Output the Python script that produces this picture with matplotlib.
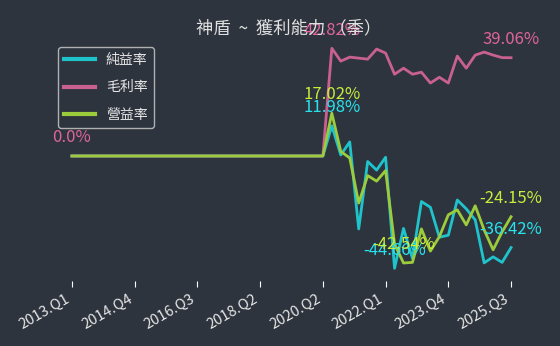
import matplotlib
matplotlib.use("Agg")
import matplotlib.pyplot as plt

plt.rcParams['font.family'] = ['Noto Sans CJK TC', 'DejaVu Sans']

quarters = (
    [f"{y}.Q{q}" for y in range(2013, 2018) for q in range(1, 5)]
    + ["2018.Q1", "2018.Q2", "2018.Q3", "2018.Q4", "2019.Q1", "2019.Q2", "2019.Q3", "2019.Q4"]
    + ["2020.Q2", "2020.Q3", "2020.Q4"]
    + [f"{y}.Q{q}" for y in range(2021, 2025) for q in range(1, 5)]
    + ["2025.Q1", "2025.Q2", "2025.Q3"]
)

net_margin = [0.0] * 29 + [
    11.98, 0.4, 5.6, -29.0, -2.2, -5.6, -0.5, -44.66, -28.8, -40.8,
    -18.1, -20.4, -32.3, -31.5, -17.5, -21.0, -25.4, -42.5, -40.1, -42.3, -36.42]
gross_margin = [0.0] * 29 + [
    42.82, 37.7, 39.3, 38.9, 38.5, 42.5, 40.9, 32.5, 34.9, 32.5,
    33.3, 29.0, 31.3, 29.0, 39.7, 34.9, 40.1, 41.3, 40.1, 39.1, 39.06]
op_margin = [0.0] * 29 + [
    17.02, 1.8, -0.8, -18.7, -7.8, -10.0, -5.8, -35.0, -42.54, -42.3,
    -29.0, -37.8, -32.1, -23.4, -21.4, -27.4, -19.8, -29.4, -37.3, -30.2, -24.15]

series_names = ["純益率", "毛利率", "營益率"]
line_colors = ["#1fc3cc", "#c8618f", "#9ccb3c"]
label_colors = ["#26e3ee", "#e0649c", "#c6ef3a"]

bg = "#2e343e"
W, H = 560, 346
fig = plt.figure(figsize=(W / 100, H / 100), dpi=100, facecolor=bg)
ax = fig.add_axes([50 / W, 1 - 281 / H, 483 / W, 244 / H], facecolor=bg)

x = list(range(len(quarters)))
all_series = [net_margin, gross_margin, op_margin]
for vals, name, c in zip(all_series, series_names, line_colors):
    ax.plot(x, vals, color=c, lw=2.0, label=name)

for vals, lc in zip(all_series, label_colors):
    imax = vals.index(max(vals))
    imin = vals.index(min(vals))
    ilast = len(vals) - 1
    for i in sorted({imax, imin, ilast}):
        ax.annotate(f"{vals[i]:.2f}%" if vals[i] != 0 else "0.0%", (x[i], vals[i]),
                    xytext=(0, 7), textcoords="offset points",
                    ha="center", va="bottom", color=lc, fontsize=12)

ax.set_xlim(-2.45, 51.45)
ax.set_ylim(-49.7, 47.3)
tick_idx = list(range(0, len(quarters), 7))
ax.set_xticks(tick_idx)
ax.set_xticklabels([quarters[i] for i in tick_idx], rotation=30, ha="right",
                   color="#e6e6e6", fontsize=10.5)
ax.tick_params(axis="x", colors="#ffffff", length=4.5, labelcolor="#e6e6e6")
ax.set_yticks([])
for s in ax.spines.values():
    s.set_visible(False)

fig.text(289 / W, 1 - 28 / H, "神盾  ~  獲利能力 （季）", ha="center", va="center",
         color="#e0e0e0", fontsize=12.5)

leg = ax.legend(loc="upper left", bbox_to_anchor=(58 / W, 1 - 47 / H),
                bbox_transform=fig.transFigure, fontsize=10, frameon=True,
                handlelength=2.2, labelspacing=0.95, borderaxespad=0, borderpad=0.45)
leg.get_frame().set_facecolor(bg)
leg.get_frame().set_edgecolor("#b0b0b0")
leg.get_frame().set_alpha(1)
for t in leg.get_texts():
    t.set_color("#e6e6e6")
for l in leg.get_lines():
    l.set_linewidth(3)

fig.savefig("out.png", dpi=100, facecolor=bg)
